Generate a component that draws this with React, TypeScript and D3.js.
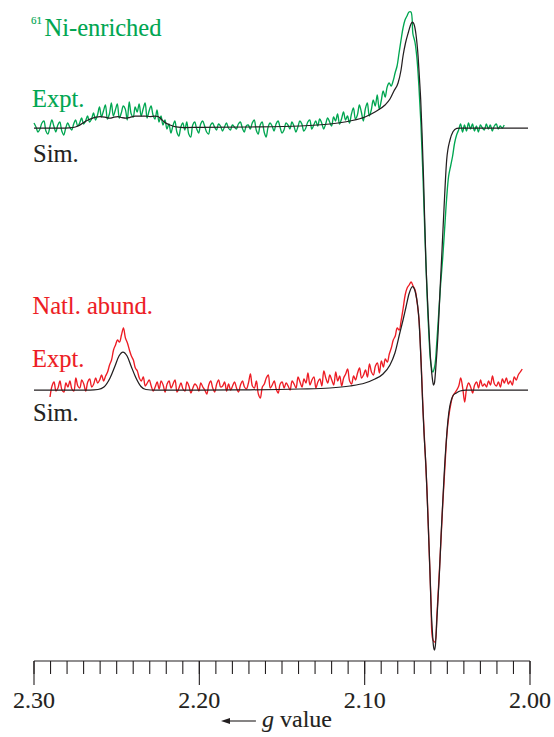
import React from "react";
import * as d3 from "d3";

// ---------- data ----------
const gDomain = [2.3, 2.0];
const majorTickValues = [2.3, 2.2, 2.1, 2.0];
const majorTickLabels = ["2.30", "2.20", "2.10", "2.00"];

// 61Ni-enriched experimental trace (uniform g grid)
const niExptStart = 2.3;
const niExptStep = 0.0012;
const niExpt = [
  5, 1, -4, -1, 5, 7, -3, -6, 1, 8,
  2, -4, 3, 6, -3, -7, 0, 5, 1, -2,
  4, 8, 2, 5, 10, 4, 7, 12, 6, 9,
  15, 8, 13, 21, 11, 17, 23, 9, 14, 25,
  12, 18, 24, 10, 15, 22, 19, 8, 26, 14,
  11, 21, 16, 24, 12, 19, 25, 10, 17, 22,
  13, 9, 18, 6, 12, 3, 8, -1, 4, -5,
  2, 7, -4, -8, 1, 5, -2, 6, -6, -9,
  3, 6, -1, -5, 4, 7, 2, -4, -6, 3,
  5, 1, -2, 4, 2, -3, 1, 5, 0, -2,
  3, 1, -1, 4, 6, 0, -4, 2, 3, -1,
  5, 8, -2, -6, 3, 6, -4, -9, 1, 5,
  2, -3, 4, 7, 1, -5, -2, 5, 3, -1,
  6, 2, -4, 1, 7, 4, -3, 0, 6, 8,
  -1, 3, 7, 2, 9, 5, -1, 4, 10, 6,
  2, 11, 7, 14, 4, 9, 16, 8, 12, 5,
  14, 20, 9, 13, 23, 16, 7, 19, 25, 12,
  18, 28, 22, 33, 19, 27, 37, 31, 41, 45,
  42, 47, 55, 62, 75, 88, 100, 108, 112, 116,
  116, 94, 86, 70, 42, 5, -45, -105, -160, -205,
  -235, -244, -238, -215, -185, -155, -130, -100, -70, -48,
  -38, -28, -15, -7, -2, 4, -4, 3, -3, 5,
  -1, 4, -3, 2, -4, 3, 0, -2, 4, -1,
  3, -3, 2, 4, -1, 2, 0, 3,
];

// 61Ni-enriched simulation [g, intensity]
const niSim: [number, number][] = [
  [2.3, 0], [2.2812, 0], [2.2764, 0.5], [2.2734, 2], [2.2704, 5], [2.2673, 8],
  [2.2649, 9.7], [2.2625, 10.8], [2.2601, 11.3], [2.2571, 10.8], [2.254, 9.8],
  [2.2516, 10.8], [2.2492, 11.3], [2.2468, 10.3], [2.2444, 9.8], [2.2419, 10.7],
  [2.2389, 11.8], [2.2359, 12], [2.2329, 12], [2.2298, 11.5], [2.2268, 11.8],
  [2.225, 11.5], [2.2232, 9], [2.2208, 5.5], [2.2177, 3], [2.2141, 1.2],
  [2.2087, 0.5], [2.1996, 0.6], [2.1694, 1], [2.1391, 2], [2.121, 4], [2.1089, 7],
  [2.0998, 11], [2.0938, 16], [2.0877, 23], [2.0847, 29], [2.0823, 37],
  [2.0798, 45], [2.078, 58], [2.0768, 72], [2.0753, 85], [2.0735, 96],
  [2.072, 104], [2.0711, 106], [2.0702, 104], [2.069, 94], [2.0677, 72],
  [2.0668, 48], [2.0661, 28], [2.0653, -5], [2.0644, -50], [2.063, -132],
  [2.0617, -182], [2.0605, -222], [2.0593, -247], [2.0584, -257], [2.0578, -255],
  [2.0569, -238], [2.0556, -205], [2.0544, -162], [2.0535, -132], [2.052, -80],
  [2.0504, -32], [2.0484, -12], [2.0466, -3.7], [2.0443, -0.3], [2.0423, 0],
  [2.0012, 0],
];

// natural abundance experimental trace (uniform g grid)
const natExptStart = 2.2903;
const natExptStep = 0.0012;
const natExpt = [
  -7, 4, 8, -1, 2, 9, 0, -2, 7, 3,
  9, 1, -1, 12, 4, 2, 10, 6, -1, 8,
  11, 3, 6, 12, 7, 10, 15, 9, 14, 18,
  25, 30, 40, 45, 50, 48, 55, 62, 52, 47,
  40, 34, 30, 22, 19, 12, 9, 13, 4, 7,
  10, 4, -1, 3, 8, 1, 9, 5, -2, 6,
  9, 2, 6, 10, -2, 2, 7, 1, -1, 8,
  4, -3, 2, 6, 4, -1, 7, 3, 0, -4,
  5, 9, 2, -2, 6, 10, 3, 4, 8, -1,
  6, 0, 4, 8, 2, -2, 5, 9, 3, 1,
  7, 16, 4, 2, 9, -4, -8, 3, 6, 12,
  15, 2, 5, 9, 1, -3, 6, 8, 2, 7,
  4, 0, 9, 6, 2, 13, 8, 3, 11, 7,
  17, 5, 10, 13, 2, 8, 11, 4, 19, 12,
  7, 15, 10, 5, 18, 9, 14, 4, 12, 16,
  21, 9, 6, 14, 10, 17, 22, 12, 15, 20,
  13, 26, 18, 15, 24, 27, 17, 29, 23, 31,
  28, 36, 42, 50, 54, 62, 60, 70, 82, 95,
  102, 105, 108, 104, 100, 88, 70, 30, -20, -60,
  -100, -155, -210, -250, -252, -225, -190, -152, -112, -78,
  -45, -26, -14, -6, -3, 0, 4, 12, 2, -12,
  2, 7, 3, -3, 5, 8, 2, 10, 4, 6,
  3, 9, 5, 14, 6, 4, 8, 3, 11, 7,
  12, 6, 9, 5, 13, 10, 15, 18, 21,
];

// natural abundance simulation [g, intensity]
const natSim: [number, number][] = [
  [2.3, 0], [2.2661, 0], [2.2613, 0.5], [2.2577, 3], [2.254, 12], [2.251, 24],
  [2.2486, 34], [2.2462, 38], [2.2437, 34], [2.2413, 24], [2.2383, 12],
  [2.2353, 3.5], [2.2323, 0.5], [2.2268, 0], [2.1996, 0], [2.1694, 0.2],
  [2.1391, 1], [2.121, 2], [2.1089, 4], [2.0998, 7], [2.0938, 11], [2.0889, 16],
  [2.0847, 25], [2.0817, 37], [2.0786, 58], [2.0768, 70], [2.075, 83],
  [2.0732, 96], [2.0711, 103.5], [2.0702, 102], [2.0691, 96], [2.068, 85],
  [2.0671, 69], [2.0665, 50], [2.0659, 28], [2.065, -10], [2.0641, -43],
  [2.0629, -78], [2.062, -115], [2.0613, -146], [2.0605, -182], [2.0599, -214],
  [2.0591, -240], [2.0584, -256], [2.0578, -260], [2.0572, -255], [2.0566, -238],
  [2.0558, -214], [2.0547, -180], [2.0538, -146], [2.0527, -110], [2.0517, -78],
  [2.0505, -48], [2.0496, -30], [2.0486, -17], [2.0475, -9.5], [2.0463, -5],
  [2.0445, -3], [2.0423, -1], [2.0387, 0], [2.0012, 0],
];

// ---------- styling ----------
const GREEN = "#00a651";
const RED = "#ed1c24";
const BLACK = "#231f20";
const FONT = "Liberation Serif";

export default function App() {
  const W = 554;
  const H = 737;
  const x = d3.scaleLinear().domain(gDomain).range([34, 530]);
  const yTop = d3.scaleLinear().domain([0, 100]).range([128, 28]);
  const yBot = d3.scaleLinear().domain([0, 100]).range([390, 290]);

  const exptPath = (start: number, step: number, vals: number[], y: d3.ScaleLinear<number, number>) =>
    d3
      .line<number>()
      .x((_, i) => x(start - i * step))
      .y((v) => y(v))
      .curve(d3.curveCatmullRom.alpha(0.5))(vals) || "";

  const simPath = (pts: [number, number][], y: d3.ScaleLinear<number, number>) =>
    d3
      .line<[number, number]>()
      .x((d) => x(d[0]))
      .y((d) => y(d[1]))
      .curve(d3.curveMonotoneX)(pts) || "";

  const axisY = 661;
  const minorTicks = x.ticks(30);

  const txt = (size: number): React.CSSProperties => ({ fontFamily: FONT, fontSize: size });

  const label = (s: string, px: number, py: number, color: string, size = 24.5) => (
    <text x={px} y={py} style={txt(size)} fill={color} stroke={color} strokeWidth={0.12}>
      {s}
    </text>
  );

  return (
    <svg
      width={W}
      height={H}
      viewBox={`0 0 ${W} ${H}`}
      style={{ position: "absolute", left: 0, top: 0, background: "#fff", display: "block" }}
    >
      <rect x={0} y={0} width={W} height={H} fill="#fff" />

      {/* traces */}
      <path d={exptPath(niExptStart, niExptStep, niExpt, yTop)} fill="none" stroke={GREEN} strokeWidth={1.35} strokeLinejoin="round" />
      <path d={simPath(niSim, yTop)} fill="none" stroke={BLACK} strokeWidth={1.25} />
      <path d={exptPath(natExptStart, natExptStep, natExpt, yBot)} fill="none" stroke={RED} strokeWidth={1.35} strokeLinejoin="round" />
      <path d={simPath(natSim, yBot)} fill="none" stroke={BLACK} strokeWidth={1.25} />

      {/* labels */}
      {label("61", 31, 24, GREEN, 11)}
      {label("Ni-enriched", 44.5, 35.5, GREEN)}
      {label("Expt.", 32, 106.5, GREEN)}
      {label("Sim.", 33, 161.5, BLACK)}
      {label("Natl. abund.", 32.5, 314, RED)}
      {label("Expt.", 32, 367, RED)}
      {label("Sim.", 33, 421, BLACK)}

      {/* axis */}
      <g stroke={BLACK} strokeWidth={1.1} fill="none">
        <line x1={x(2.3)} x2={x(2.0)} y1={axisY} y2={axisY} />
        {minorTicks.map((t, i) => (
          <line key={i} x1={x(t)} x2={x(t)} y1={axisY} y2={axisY + 13} />
        ))}
        {majorTickValues.map((t, i) => (
          <line key={"M" + i} x1={x(t)} x2={x(t)} y1={axisY} y2={axisY + 24} />
        ))}
      </g>
      {majorTickValues.map((t, i) => (
        <text key={i} x={x(t)} y={708} textAnchor="middle" style={txt(24)} fill={BLACK} stroke={BLACK} strokeWidth={0.12}>
          {majorTickLabels[i]}
        </text>
      ))}
      {/* axis title with arrow */}
      <line x1={228} x2={256} y1={721} y2={721} stroke={BLACK} strokeWidth={1.1} />
      <path d="M221,721 L230,718 L230,724 Z" fill={BLACK} />
      <text x={262} y={727} style={txt(24)} fill={BLACK} stroke={BLACK} strokeWidth={0.12}>
        <tspan style={{ fontStyle: "italic", fontFamily: FONT }}>g</tspan> value
      </text>
    </svg>
  );
}
